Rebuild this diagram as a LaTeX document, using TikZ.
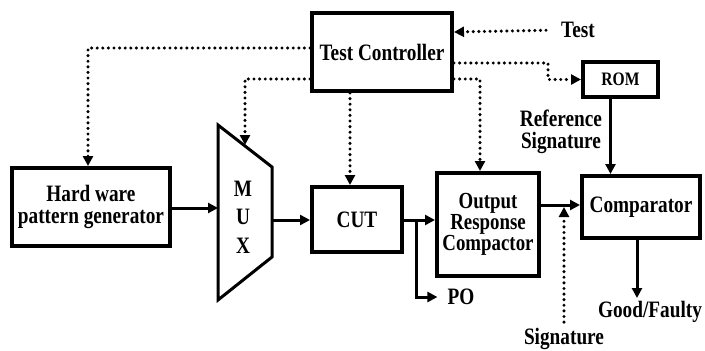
\documentclass[tikz,border=0pt]{standalone}
\usepackage{fontspec}
\setmainfont{Liberation Serif}[FakeStretch=0.82]
\usetikzlibrary{arrows.meta}
\tikzset{bistdiag/.style={x=1pt,y=-1pt,font=\bfseries\fontsize{23.5}{22}\selectfont},
  blk/.style={draw,line width=4pt,align=center,inner sep=0pt},
  sig/.style={line width=3pt,-{Triangle[length=10pt,width=10pt]}},
  ctl/.style={line width=3.4pt,line cap=round,dash pattern=on 0pt off 5.6pt,-{Triangle[length=10pt,width=10pt]}},
  lbl/.style={align=center,inner sep=1pt}}

\begin{document}
\begin{tikzpicture}[bistdiag]
    \useasboundingbox (0,0) rectangle (705,351);
    % blocks
    \node[blk,minimum width=140pt,minimum height=78pt] (tc)   at (382,52)    {Test Controller};
    \node[blk,minimum width=158pt,minimum height=78pt] (hwpg) at (91,207)    {Hard ware\\pattern generator};
    \node[blk,minimum width=90pt,minimum height=65pt]  (cut)  at (357,219.5) {CUT};
    \node[blk,minimum width=102pt,minimum height=103pt,font=\bfseries\fontsize{23}{21}\selectfont] (orc) at (488,224.5) {Output\\Response\\Compactor};
    \node[blk,minimum width=118pt,minimum height=62pt] (cmp)  at (641,207)   {Comparator};
    \node[blk,minimum width=75pt,minimum height=35pt,font=\bfseries\fontsize{19}{18}\selectfont] (rom) at (620.5,79.5) {ROM};
    % multiplexer
    \draw[line width=3pt,line join=miter] (218,125) -- (272,167) -- (272,257) -- (218,300) -- cycle;
    \node[lbl,font=\bfseries\fontsize{23.5}{28.5}\selectfont] (mux) at (243,217) {M\\U\\X};
    \coordinate (muxin)  at (218,208);
    \coordinate (muxout) at (272,220);
    \coordinate (muxctl) at (245,145);
    \coordinate (pobr)   at (416,220);
    % labels
    \node[lbl] (tst) at (578,30)  {Test};
    \node[lbl] (ref) at (561,132) {Reference\\Signature};
    \node[lbl] (po)  at (461,297) {PO};
    \node[lbl] (sgn) at (564,339) {Signature};
    \node[lbl] (gf)  at (650,312) {Good/Faulty};
    % data path
    \draw[sig] (hwpg.east |- muxin) -- (muxin);
    \draw[sig] (muxout) -- (cut.west |- muxout);
    \draw[sig] (cut.east |- pobr) -- (orc.west |- pobr);
    \draw[sig,shorten >=9pt] (pobr) |- (po.west);
    \draw[sig] (orc.east |- 0,205) -- (cmp.west |- 0,205);
    \draw[sig] ([xshift=-10pt]rom.south) -- ([xshift=-10pt]rom.south |- cmp.north);
    \draw[sig] ([xshift=-4pt]cmp.south) -- ([xshift=-4pt]cmp.south |- 0,298);
    % control lines
    \draw[ctl,shorten <=14pt] (tst.west) -- (tc.east |- 0,32);
    \draw[ctl] ([yshift=4pt]tc.west) -| ([xshift=-3pt]hwpg.north);
    \draw[ctl] ([yshift=-27pt]tc.west) -| (muxctl);
    \draw[ctl] ([xshift=-7pt]cut.north |- tc.south) -- ([xshift=-7pt]cut.north);
    \draw[ctl] ([yshift=-27pt]tc.east) -| ([xshift=-8pt]orc.north);
    \draw[ctl] ([yshift=-11pt]tc.east) -- ++(94,0) |- (rom.west);
    \draw[ctl,shorten <=5pt] (sgn.north) -- (sgn.north |- 0,207);
  \end{tikzpicture}
\end{document}
